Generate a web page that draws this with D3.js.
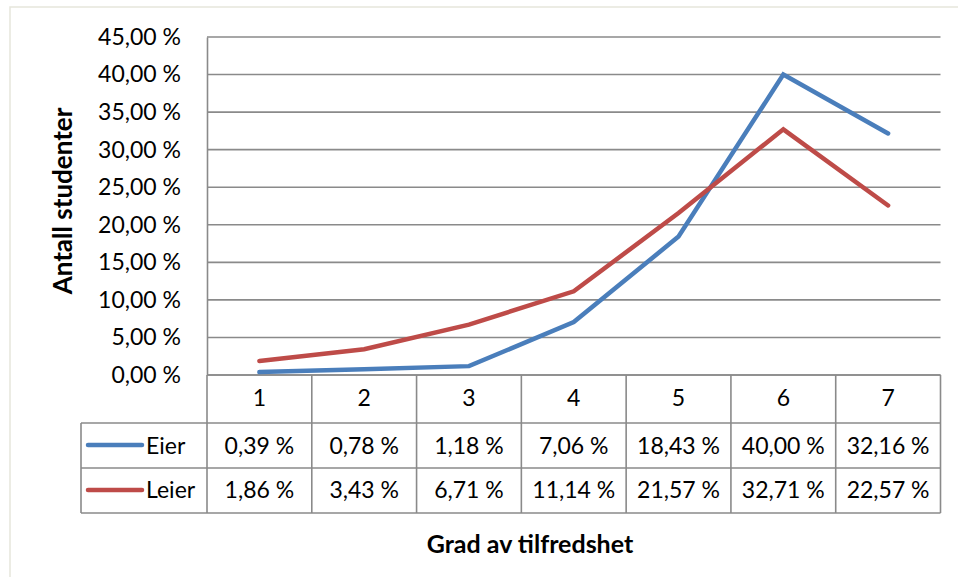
<!DOCTYPE html>
<html><head><meta charset="utf-8">
<script src="https://cdn.jsdelivr.net/npm/d3@7"></script>
<style>body{margin:0;background:#fff}svg{display:block}</style>
</head><body>
<script>
const categories = ["1","2","3","4","5","6","7"];
const seriesNames = ["Eier","Leier"];
const eier = [0.39, 0.78, 1.18, 7.06, 18.43, 40.00, 32.16];
const leier = [1.86, 3.43, 6.71, 11.14, 21.57, 32.71, 22.57];
const yTicks = [0,5,10,15,20,25,30,35,40,45];
const colors = ["#4A7EBB", "#BE4B48"];
const xTitle = "Grad av tilfredshet";
const yTitle = "Antall studenter";

(function(){
const W = 958, H = 577;
const fmt = v => v.toFixed(2).replace(".", ",") + " %";
const FONT = "Lato, 'Open Sans', sans-serif";
const FS = 23;

const svg = d3.select("body").append("svg").attr("width", W).attr("height", H)
  .style("font-family", FONT);

svg.append("rect").attr("x",10).attr("y",7).attr("width",W+10).attr("height",H+10)
  .attr("fill","#fff").attr("stroke","#e6e6dc").attr("stroke-width",1.5);

const pLeft = 207, pRight = 940.5, pTop = 37, pBottom = 375;
const x = d3.scaleBand().domain(categories).range([pLeft, pRight]).padding(0);
const y = d3.scaleLinear().domain([0,45]).range([pBottom, pTop]);

const grid = "#8a8a8a";
svg.append("g").selectAll("line").data(yTicks).join("line")
  .attr("x1", pLeft).attr("x2", pRight).attr("y1", d=>y(d)).attr("y2", d=>y(d))
  .attr("stroke", grid).attr("stroke-width", 1.6);

const yAxis = d3.axisLeft(y).tickValues(yTicks).tickFormat(fmt).tickSize(0).tickPadding(26);
const ya = svg.append("g").attr("transform", `translate(${pLeft},0)`).call(yAxis);
ya.select(".domain").attr("stroke", grid).attr("stroke-width", 1.6);
ya.selectAll("text").attr("font-size", FS).attr("font-family", FONT).attr("fill","#000");

const row0 = pBottom, row1 = 423, row2 = 468, row3 = 513;
const legendLeft = 81;
const tg = svg.append("g").attr("stroke", grid).attr("stroke-width", 1.6).attr("fill","none");
tg.append("line").attr("x1", pLeft).attr("x2", pRight).attr("y1", row0).attr("y2", row0);
[row1,row2,row3].forEach(r => tg.append("line").attr("x1", legendLeft).attr("x2", pRight).attr("y1", r).attr("y2", r));
categories.forEach(c => tg.append("line").attr("x1", x(c)).attr("x2", x(c)).attr("y1", row0).attr("y2", row3));
tg.append("line").attr("x1", pRight).attr("x2", pRight).attr("y1", row0).attr("y2", row3);
tg.append("line").attr("x1", legendLeft).attr("x2", legendLeft).attr("y1", row1).attr("y2", row3);

svg.append("g").selectAll("text").data(categories).join("text")
  .attr("x", d => x(d) + x.bandwidth()/2).attr("y", 406)
  .attr("text-anchor","middle").attr("font-size", FS).text(d=>d);

const data = [eier, leier];
const rowBase = [454, 498];
const rowMid = [445, 490];
data.forEach((vals, i) => {
  svg.append("g").selectAll("text").data(vals).join("text")
    .attr("x", (d,j) => x(categories[j]) + x.bandwidth()/2).attr("y", rowBase[i])
    .attr("text-anchor","middle").attr("font-size", FS).text(d=>fmt(d));
  svg.append("line").attr("x1", 88).attr("x2", 142).attr("y1", rowMid[i]).attr("y2", rowMid[i])
    .attr("stroke", colors[i]).attr("stroke-width", 4.5).attr("stroke-linecap","round");
  svg.append("text").attr("x", 146).attr("y", rowBase[i]).attr("font-size", FS).text(seriesNames[i]);
});

const line = d3.line().x((d,j) => x(categories[j]) + x.bandwidth()/2).y(d => y(d));
data.forEach((vals, i) => {
  svg.append("path").datum(vals).attr("d", line).attr("fill","none")
    .attr("stroke", colors[i]).attr("stroke-width", 4.5)
    .attr("stroke-linecap","round").attr("stroke-linejoin","miter");
});

svg.append("text").attr("x", 530).attr("y", 553).attr("text-anchor","middle")
  .attr("font-size", 25).attr("font-weight","bold").text(xTitle);
svg.append("text").attr("transform", "translate(72,201) rotate(-90)").attr("text-anchor","middle")
  .attr("font-size", 26).attr("font-weight","bold").text(yTitle);
})();
</script>
</body></html>
